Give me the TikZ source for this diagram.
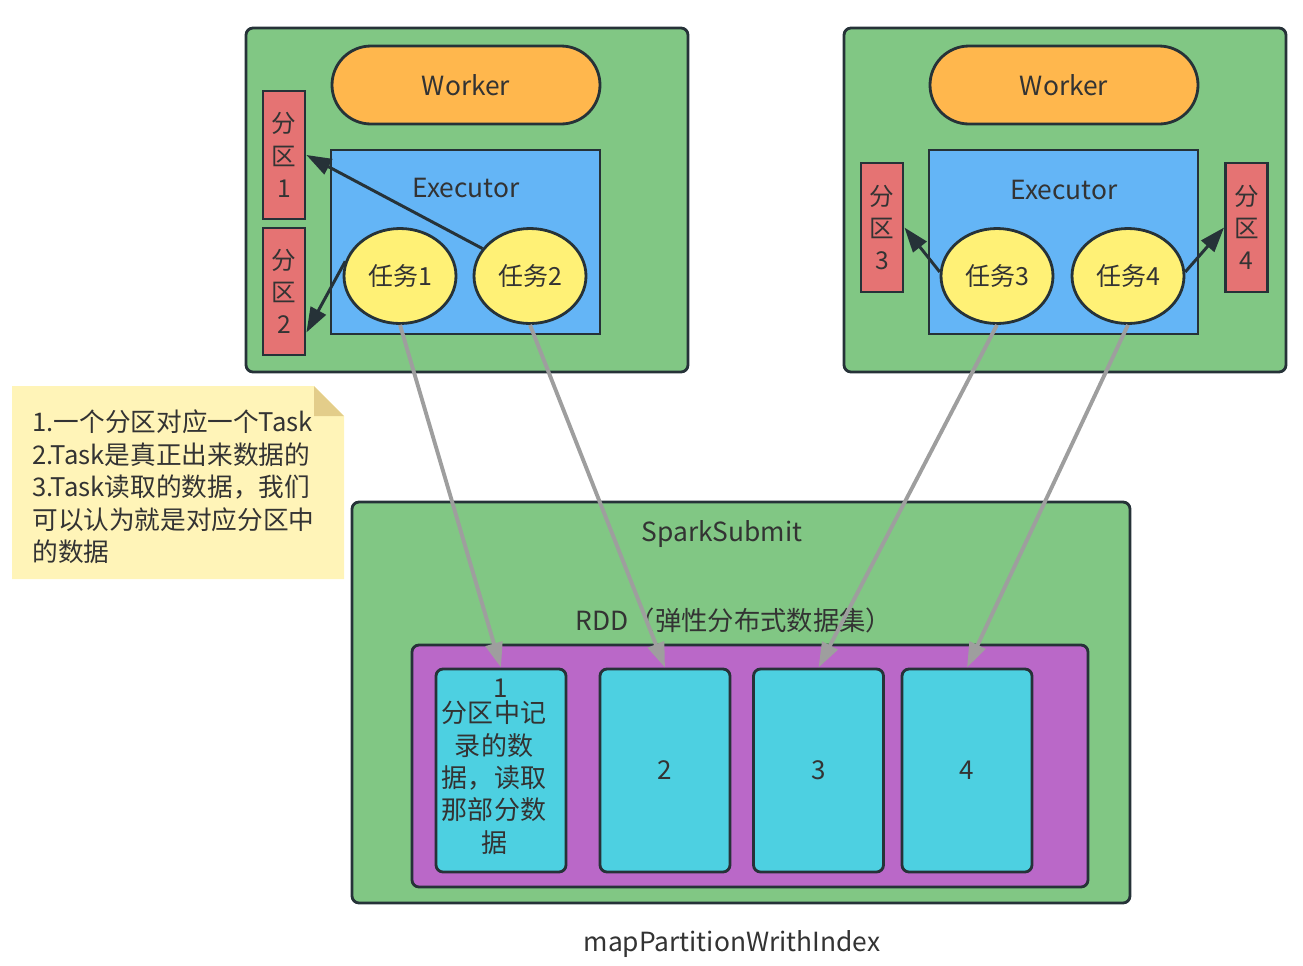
\documentclass[tikz,border=0pt]{standalone}
\usepackage{fontspec}
\setmainfont{Noto Sans CJK SC}
\usetikzlibrary{positioning,arrows.meta,shapes.geometric}
\definecolor{G}{HTML}{81C784}
\definecolor{O}{HTML}{FFB74D}
\definecolor{B}{HTML}{64B5F6}
\definecolor{R}{HTML}{E57373}
\definecolor{Y}{HTML}{FFF176}
\definecolor{P}{HTML}{BA68C8}
\definecolor{C}{HTML}{4DD0E1}
\definecolor{D}{HTML}{263238}
\definecolor{T}{HTML}{333333}
\definecolor{N}{HTML}{FFF4B8}
\definecolor{F}{HTML}{E3CD8A}
\definecolor{Gr}{HTML}{9E9E9E}
\tikzstyle{every node}=[text=T, font=\fontsize{15}{18}\selectfont]
\tikzstyle{box} = [rectangle,
rounded corners=4pt,
line width=1.6pt,
draw=D, fill=G]
\tikzstyle{pill} = [rectangle,
rounded corners=0.78cm,
minimum width=5.36cm,
minimum height=1.56cm,
line width=1.6pt,
draw=D, fill=O]
\tikzstyle{exec} = [rectangle,
minimum width=5.38cm,
minimum height=3.68cm,
line width=1.6pt,
draw=D, fill=B]
\tikzstyle{part} = [rectangle,
minimum width=0.84cm,
minimum height=2.56cm,
inner sep=0pt, align=center,
font=\fontsize{14}{18.3}\selectfont,
line width=1.6pt,
draw=D, fill=R]
\tikzstyle{task} = [ellipse,
minimum width=2.24cm,
minimum height=1.9cm,
inner sep=0pt,
font=\fontsize{14.2}{18}\selectfont,
line width=1.6pt,
draw=D, fill=Y]
\tikzstyle{cell} = [rectangle,
rounded corners=4pt,
minimum width=2.6cm,
minimum height=4.06cm,
inner sep=0pt, align=center,
font=\fontsize{14.8}{18.4}\selectfont,
line width=1.6pt,
draw=D, fill=C]
\tikzstyle{arrow} = [-{Triangle[length=0.5cm,width=0.34cm]}, line width=1.7pt, draw=D]
\tikzstyle{garrow} = [-{Triangle[length=0.5cm,width=0.34cm]}, line width=2.2pt, draw=Gr]

\begin{document}
\begin{tikzpicture}[node distance=2.6cm]
      \useasboundingbox (0,0) rectangle (26.06,-19.3);
      % left worker
      \node (box1) [box, minimum width=8.84cm, minimum height=6.88cm] at (9.34,-4.0) {};
      \node (work1) [pill] at (9.32,-1.70) {Worker};
      \node (exec1) [exec] at (9.31,-4.84) {};
      \node (elab1) at (9.32,-3.76) {Executor};
      \node (part1) [part] at (5.68,-3.10) {分\\区\\1};
      \node (part2) [part, minimum height=2.54cm] at (5.68,-5.83) {分\\区\\2};
      \node (task1) [task] at (8.0,-5.52) {任务1};
      \node (task2) [task, right of=task1] {任务2};
      % right worker
      \node (box2) [box, minimum width=8.84cm, minimum height=6.88cm] at (21.3,-4.0) {};
      \node (work2) [pill] at (21.28,-1.70) {Worker};
      \node (exec2) [exec] at (21.27,-4.84) {};
      \node (elab2) at (21.28,-3.80) {Executor};
      \node (part3) [part, minimum height=2.58cm] at (17.64,-4.55) {分\\区\\3};
      \node (part4) [part, minimum height=2.58cm] at (24.93,-4.55) {分\\区\\4};
      \node (task3) [task] at (19.94,-5.52) {任务3};
      \node (task4) [task, right of=task3, xshift=0.02cm] {任务4};
      % note
      \fill [N] (0.24,-7.72) -- (6.28,-7.72) -- (6.88,-8.32) -- (6.88,-11.58) -- (0.24,-11.58) -- cycle;
      \fill [F] (6.28,-7.72) -- (6.28,-8.32) -- (6.88,-8.32) -- cycle;
      \node (note) [anchor=west, align=left, inner sep=0pt, font=\fontsize{14.6}{18.5}\selectfont] at (0.64,-9.74) {1.一个分区对应一个Task\\2.Task是真正出来数据的\\3.Task读取的数据，我们\\可以认为就是对应分区中\\的数据};
      % driver
      \node (spark) [box, minimum width=15.56cm, minimum height=8.02cm] at (14.82,-14.05) {};
      \node (slab) at (14.44,-10.68) {SparkSubmit};
      \node (rlab) at (14.68,-12.40) {RDD（弹性分布式数据集）};
      \node (rdd) [box, fill=P, minimum width=13.52cm, minimum height=4.84cm] at (15.0,-15.32) {};
      \node (cell1) [cell] at (10.02,-15.41) {};
      \node (ctext) [align=center, inner sep=0pt, font=\fontsize{14.8}{18.4}\selectfont] at ([xshift=-0.14cm,yshift=0.08cm]cell1.center) {\hspace*{0.28cm}1\\[-4pt]分区中记\\录的数\\据，读取\\那部分数\\据};
      \node (cell2) [cell] at (13.30,-15.41) {2};
      \node (cell3) [cell] at (16.37,-15.41) {3};
      \node (cell4) [cell] at (19.34,-15.41) {4};
      \node (cap) at (14.64,-18.88) {mapPartitionWrithIndex};
      \draw [arrow] (task2.150) -- (part1.east);
      \draw [arrow] (task1.165) -- ([yshift=-0.82cm]part2.east);
      \draw [arrow] (task3.176) -- (part3.east);
      \draw [arrow] (task4.4) -- (part4.west);
      \draw [garrow] (task1.south) -- (cell1.north);
      \draw [garrow] (task2.south) -- (cell2.north);
      \draw [garrow] (task3.south) -- (cell3.north);
      \draw [garrow] (task4.south) -- (cell4.north);
\end{tikzpicture}
\end{document}
